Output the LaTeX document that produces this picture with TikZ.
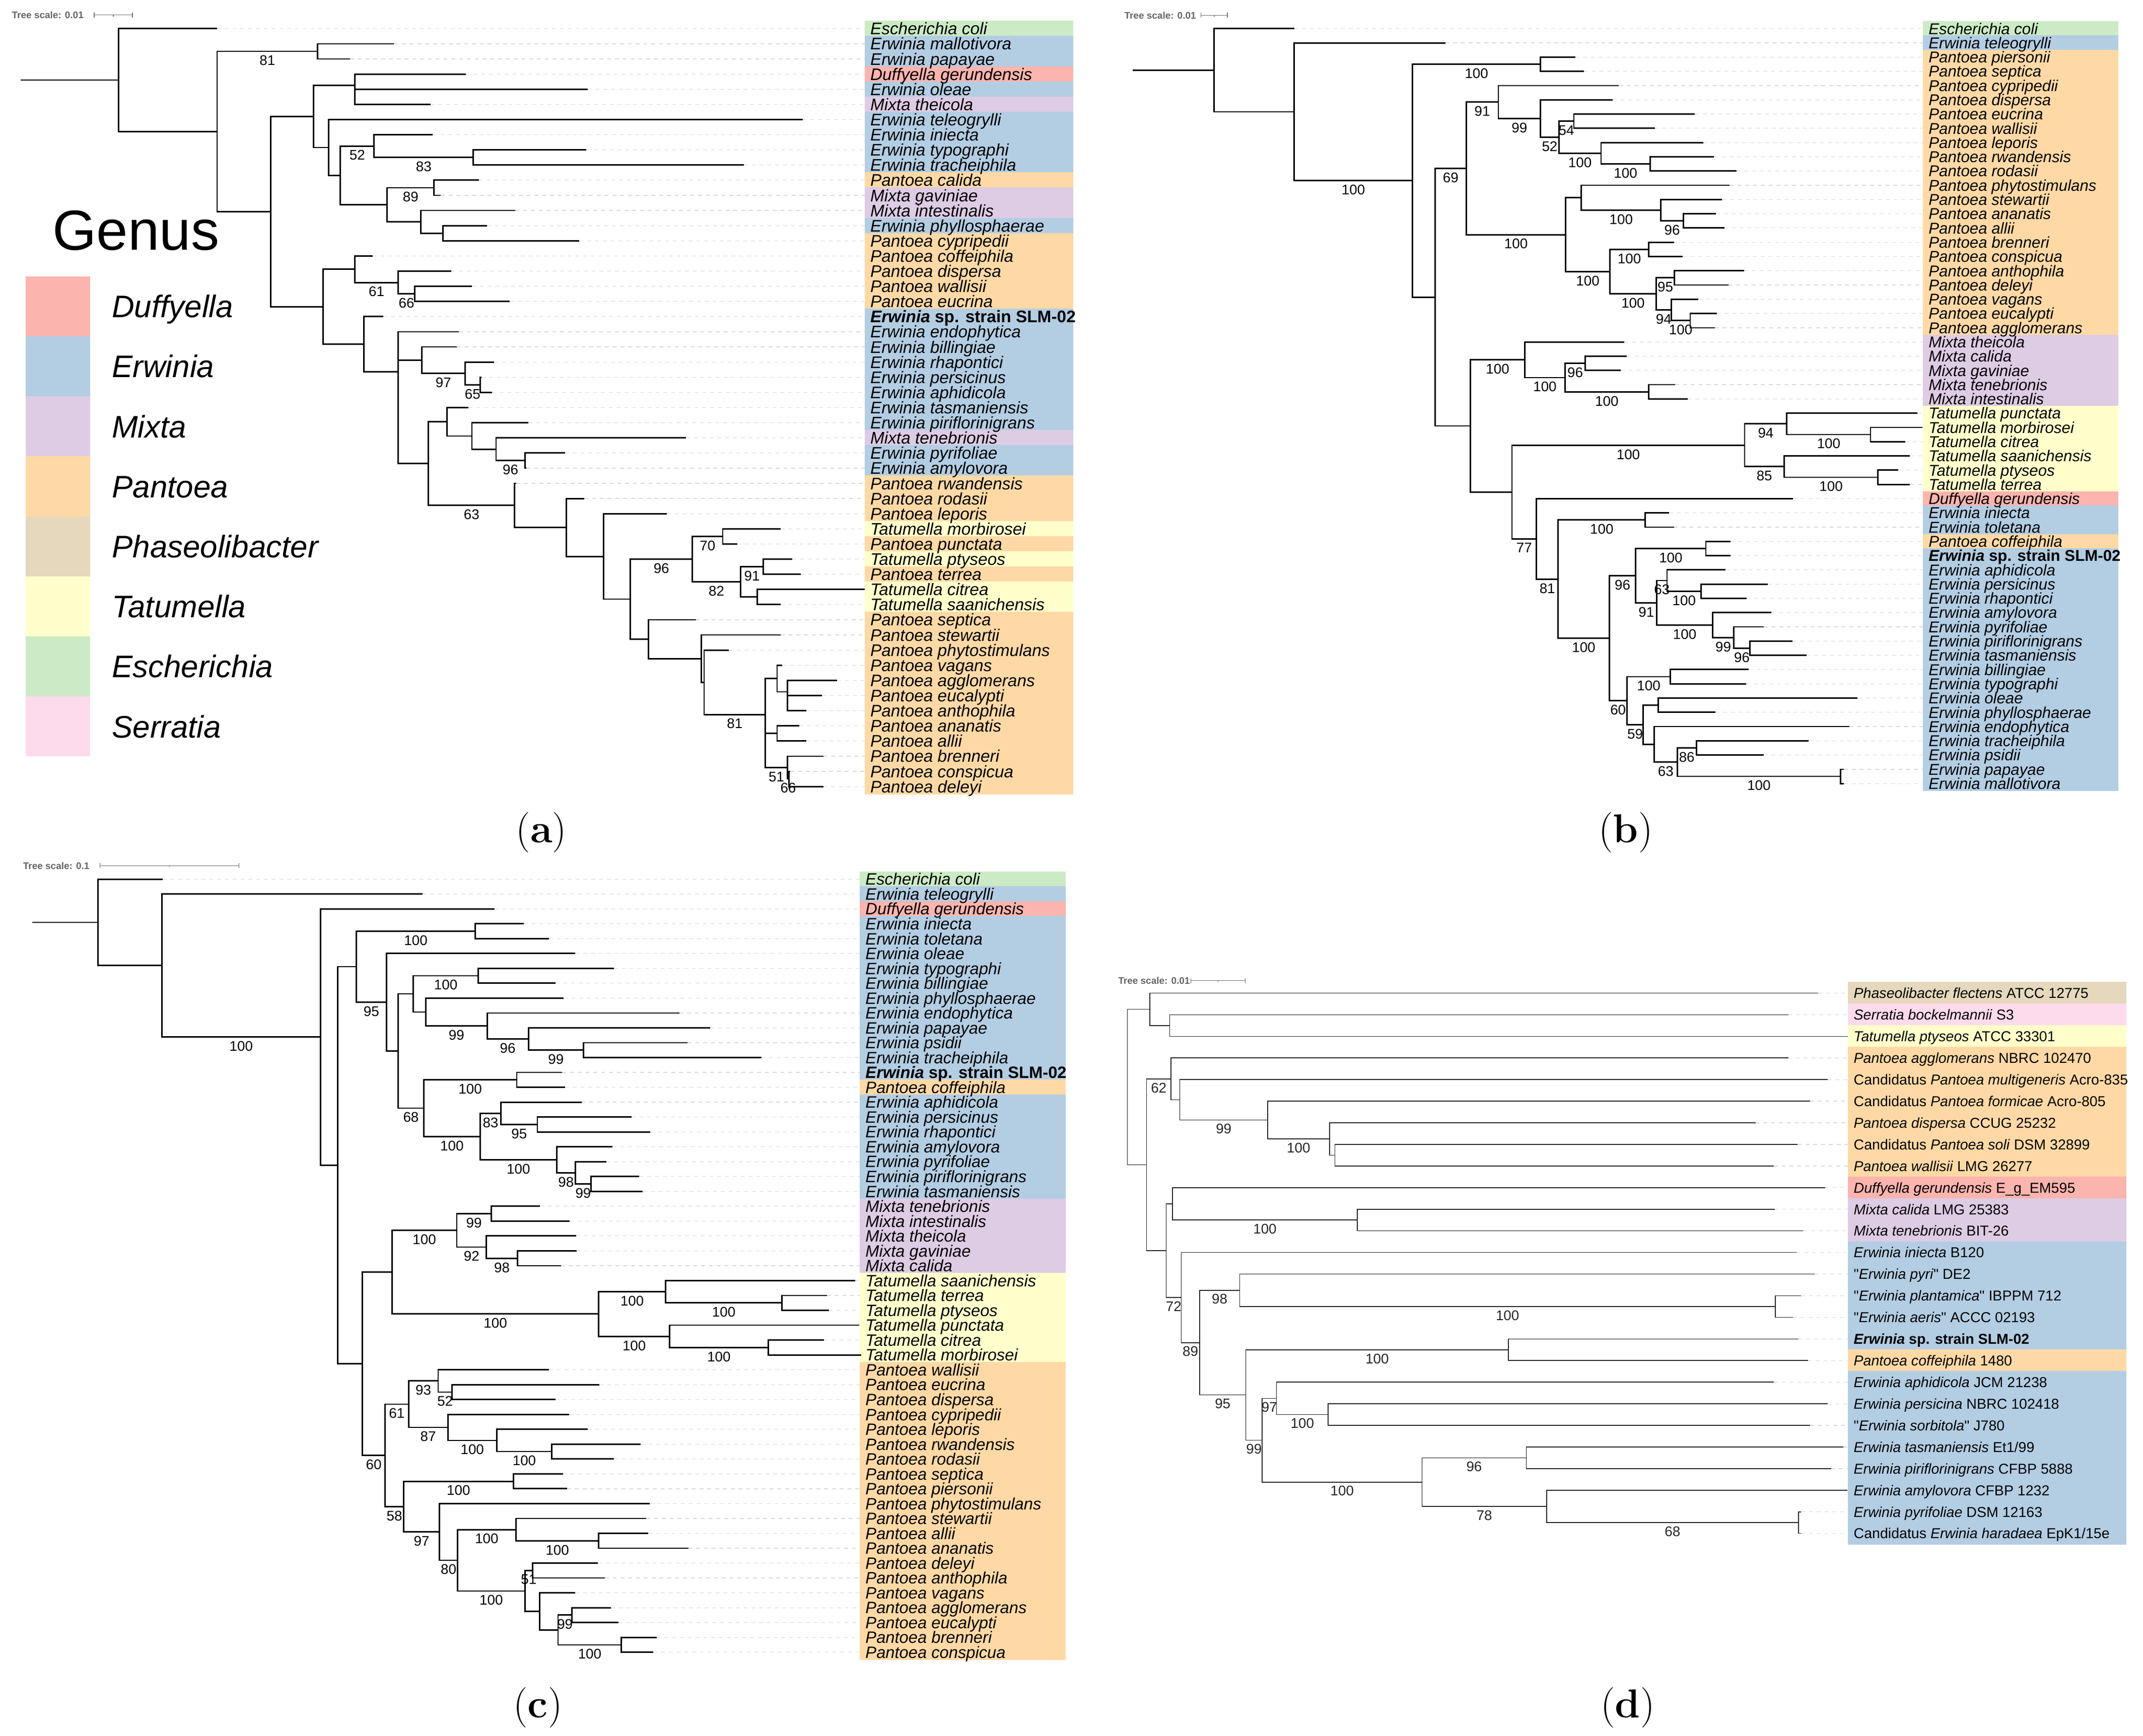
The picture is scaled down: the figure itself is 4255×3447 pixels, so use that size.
\documentclass[tikz,border=0pt]{standalone}
\usepackage{fontspec}
\newfontfamily\arial{Liberation Sans}
\usepackage{tikz}
\pgfdeclarelayer{bg}
\pgfsetlayers{bg,main}

\definecolor{duff}{HTML}{FBB4AE}
\definecolor{erw}{HTML}{B3CDE3}
\definecolor{mix}{HTML}{DECBE4}
\definecolor{pan}{HTML}{FED9A6}
\definecolor{pha}{HTML}{E5D8BD}
\definecolor{tat}{HTML}{FFFFCC}
\definecolor{esc}{HTML}{CCEBC5}
\definecolor{ser}{HTML}{FDDAEC}

\tikzset{
  branch/.style={line width=0.8pt},
  guide/.style={black!15, line width=0.35pt, dash pattern=on 2.2pt off 2.2pt},
  taxa/.style={anchor=west, inner xsep=3pt, inner ysep=0pt, text depth=0pt},
  boot/.style={below, inner sep=2pt, font=\arial\fontsize{7.9}{8}\selectfont},
  scaletext/.style={anchor=west, inner sep=0pt, text height=3.9pt, text depth=0pt, text=black!60, font=\arial\bfseries\fontsize{5.4}{6}\selectfont},
  scalebar/.style={black!55, line width=0.4pt},
  legendlab/.style={anchor=west, inner sep=0pt, text height=12.7pt, text depth=0pt, font=\arial\itshape\fontsize{17.6}{18}\selectfont},
  panellab/.style={inner sep=0pt, font=\fontsize{22.8}{24}\selectfont},
}

% 叶: 行, 名, 末端 x, 颜色, 标签
\newcommand{\taxon}[5]{%
  \begin{pgfonlayer}{bg}
    \fill[#4] (\xbox,{\ya+\dy*(#1-0.5)-0.5}) rectangle (\xend,{\ya+\dy*(#1+0.5)+0.5});
  \end{pgfonlayer}
  \coordinate (#2) at (#3,{\ya+\dy*#1});
  \node[taxa] (#2-t) at (\xbox,{\ya+\dy*#1}) {#5};
  \draw[guide] (#2) -- (#2-t.west);
}
% 分支: 名, x, 子1, 支持率1, 子2, 支持率2
\newcommand{\clade}[6]{%
  \path (#3) -- (#5) coordinate[midway] (#1-m);
  \coordinate (#1-x) at (#2,0);
  \coordinate (#1) at (#1-m -| #1-x);
  \draw[branch] (#3) -| node[boot, pos=.25] {#4} (#1) |- node[boot, pos=.75] {#6} (#5);
}
% 比例尺
\newcommand{\treescale}[5]{%
  \node[scaletext] (scale) at (#1,#2) {Tree scale: #5};
  \draw[scalebar] (#3,#2) -- (#4,#2)
    (#3,#2-5) -- (#3,#2+5) (#4,#2-5) -- (#4,#2+5)
    ({(#3+#4)/2},#2) -- ({(#3+#4)/2},#2+3);
}

\begin{document}
\begin{tikzpicture}[x=0.01cm, y=-0.01cm]
\useasboundingbox (0,0) rectangle (4255,3447);
\begin{pgfonlayer}{bg}
  \fill[white] (0,0) rectangle (4255,3447);
\end{pgfonlayer}

% 树 (a)
\begin{scope}[name prefix=a-, x=0.01367cm, taxa/.append style={font=\arial\itshape\fontsize{9.5}{11}\selectfont, text height=6.84pt}]
  \def\ya{56.8}\def\dy{30.106}\def\xbox{1255}\def\xend{1558}
  \treescale{16.8}{29.5}{136.8}{192.4}{0.01}
  % 图例
  \node[anchor=base west, inner sep=0pt, font=\arial\fontsize{31.9}{32}\selectfont] (genus) at (76,496) {Genus};
  \fill[duff] (37,548.7) rectangle (131,667.9);
  \fill[erw] (37,667.9) rectangle (131,787.1);
  \fill[mix] (37,787.1) rectangle (131,906.3);
  \fill[pan] (37,906.3) rectangle (131,1025.5);
  \fill[pha] (37,1025.5) rectangle (131,1144.7);
  \fill[tat] (37,1144.7) rectangle (131,1263.9);
  \fill[esc] (37,1263.9) rectangle (131,1383.1);
  \fill[ser] (37,1383.1) rectangle (131,1502.3);
  \node[legendlab] (leg-duff) at (162,608.3) {Duffyella};
  \node[legendlab] (leg-erw) at (162,727.5) {Erwinia};
  \node[legendlab] (leg-mix) at (162,846.7) {Mixta};
  \node[legendlab] (leg-pan) at (162,965.9) {Pantoea};
  \node[legendlab] (leg-pha) at (162,1085.1) {Phaseolibacter};
  \node[legendlab] (leg-tat) at (162,1204.3) {Tatumella};
  \node[legendlab] (leg-esc) at (162,1323.5) {Escherichia};
  \node[legendlab] (leg-ser) at (162,1442.7) {Serratia};
  % 叶
  \taxon{0}{coli}{315}{esc}{Escherichia coli}
  \taxon{1}{mallotivora}{572}{erw}{Erwinia mallotivora}
  \taxon{2}{papayae}{508}{erw}{Erwinia papayae}
  \taxon{3}{gerundensis}{676}{duff}{Duffyella gerundensis}
  \taxon{4}{oleae}{853}{erw}{Erwinia oleae}
  \taxon{5}{theicola}{625}{mix}{Mixta theicola}
  \taxon{6}{teleogrylli}{1165}{erw}{Erwinia teleogrylli}
  \taxon{7}{iniecta}{628}{erw}{Erwinia iniecta}
  \taxon{8}{typographi}{851}{erw}{Erwinia typographi}
  \taxon{9}{tracheiphila}{1080}{erw}{Erwinia tracheiphila}
  \taxon{10}{calida}{695}{pan}{Pantoea calida}
  \taxon{11}{gaviniae}{640}{mix}{Mixta gaviniae}
  \taxon{12}{intestinalis}{748}{mix}{Mixta intestinalis}
  \taxon{13}{phyllosphaerae}{707}{erw}{Erwinia phyllosphaerae}
  \taxon{14}{cypripedii}{841}{pan}{Pantoea cypripedii}
  \taxon{15}{coffeiphila}{541}{pan}{Pantoea coffeiphila}
  \taxon{16}{dispersa}{655}{pan}{Pantoea dispersa}
  \taxon{17}{wallisii}{685}{pan}{Pantoea wallisii}
  \taxon{18}{eucrina}{740}{pan}{Pantoea eucrina}
  \taxon{19}{slm}{556}{erw}{\bfseries Erwinia \upshape sp. strain SLM-02}
  \taxon{20}{endophytica}{666}{erw}{Erwinia endophytica}
  \taxon{21}{billingiae}{663}{erw}{Erwinia billingiae}
  \taxon{22}{rhapontici}{717}{erw}{Erwinia rhapontici}
  \taxon{23}{persicinus}{699}{erw}{Erwinia persicinus}
  \taxon{24}{aphidicola}{714}{erw}{Erwinia aphidicola}
  \taxon{25}{tasmaniensis}{680}{erw}{Erwinia tasmaniensis}
  \taxon{26}{piriflorinigrans}{767}{erw}{Erwinia piriflorinigrans}
  \taxon{27}{tenebrionis}{996}{mix}{Mixta tenebrionis}
  \taxon{28}{pyrifoliae}{820}{erw}{Erwinia pyrifoliae}
  \taxon{29}{amylovora}{764}{erw}{Erwinia amylovora}
  \taxon{30}{rwandensis}{749}{pan}{Pantoea rwandensis}
  \taxon{31}{rodasii}{848}{pan}{Pantoea rodasii}
  \taxon{32}{leporis}{968}{pan}{Pantoea leporis}
  \taxon{33}{morbirosei}{1133}{tat}{Tatumella morbirosei}
  \taxon{34}{punctata}{1070}{pan}{Pantoea punctata}
  \taxon{35}{ptyseos}{1150}{tat}{Tatumella ptyseos}
  \taxon{36}{terrea}{1162}{pan}{Pantoea terrea}
  \taxon{37}{citrea}{1255}{tat}{Tatumella citrea}
  \taxon{38}{saanichensis}{1133}{tat}{Tatumella saanichensis}
  \taxon{39}{septica}{1010}{pan}{Pantoea septica}
  \taxon{40}{stewartii}{1133}{pan}{Pantoea stewartii}
  \taxon{41}{phytostimulans}{1058}{pan}{Pantoea phytostimulans}
  \taxon{42}{vagans}{1135}{pan}{Pantoea vagans}
  \taxon{43}{agglomerans}{1215}{pan}{Pantoea agglomerans}
  \taxon{44}{eucalypti}{1193}{pan}{Pantoea eucalypti}
  \taxon{45}{anthophila}{1170}{pan}{Pantoea anthophila}
  \taxon{46}{ananatis}{1160}{pan}{Pantoea ananatis}
  \taxon{47}{allii}{1170}{pan}{Pantoea allii}
  \taxon{48}{brenneri}{1195}{pan}{Pantoea brenneri}
  \taxon{49}{conspicua}{1147}{pan}{Pantoea conspicua}
  \taxon{50}{deleyi}{1195}{pan}{Pantoea deleyi}
  % 分支
  \clade{B}{461}{mallotivora}{}{papayae}{}
  \clade{F2}{515}{oleae}{}{theicola}{}
  \clade{F}{515}{gerundensis}{}{F2}{}
  \clade{J}{687}{typographi}{}{tracheiphila}{}
  \clade{I}{543}{iniecta}{}{J}{83}
  \clade{L}{630}{calida}{}{gaviniae}{}
  \clade{N}{643}{phyllosphaerae}{}{cypripedii}{}
  \clade{M}{611}{intestinalis}{}{N}{}
  \clade{K}{562}{L}{89}{M}{}
  \clade{H}{494}{I}{52}{K}{}
  \clade{G}{477}{teleogrylli}{}{H}{}
  \clade{D}{455}{F}{}{G}{}
  \clade{S}{602}{wallisii}{}{eucrina}{}
  \clade{Q}{578}{dispersa}{}{S}{66}
  \clade{O}{515}{coffeiphila}{}{Q}{61}
  \clade{X}{697}{persicinus}{}{aphidicola}{}
  \clade{W}{675}{rhapontici}{}{X}{65}
  \clade{U}{612}{billingiae}{}{W}{97}
  \clade{AC}{762}{pyrifoliae}{}{amylovora}{}
  \clade{AB}{720}{tenebrionis}{}{AC}{96}
  \clade{AA}{685}{piriflorinigrans}{}{AB}{}
  \clade{Y}{649}{tasmaniensis}{}{AA}{}
  \clade{AI}{1049}{morbirosei}{}{punctata}{}
  \clade{AK}{1108}{ptyseos}{}{terrea}{}
  \clade{AL}{1099}{citrea}{}{saanichensis}{}
  \clade{AJ}{1075}{AK}{91}{AL}{}
  \clade{AG}{1005}{AI}{70}{AJ}{82}
  \clade{AS2}{1143}{eucalypti}{}{anthophila}{}
  \clade{AS}{1143}{agglomerans}{}{AS2}{}
  \clade{AP}{1128}{vagans}{}{AS}{}
  \clade{AQ}{1128}{ananatis}{}{allii}{}
  \clade{AT}{1145}{conspicua}{}{deleyi}{}
  \clade{AR}{1143}{brenneri}{}{AT}{66}
  \clade{AO2}{1111}{AQ}{}{AR}{51}
  \clade{AO}{1111}{AP}{}{AO2}{}
  \clade{AN}{1022}{phytostimulans}{}{AO}{81}
  \clade{AM}{1018}{stewartii}{}{AN}{}
  \clade{AH}{941}{septica}{}{AM}{}
  \clade{AF}{915}{AG}{96}{AH}{}
  \clade{AE}{876}{leporis}{}{AF}{}
  \clade{AD}{822}{rodasii}{}{AE}{}
  \clade{Z}{747}{rwandensis}{}{AD}{}
  \clade{V}{622}{Y}{}{Z}{63}
  \clade{T2}{578}{U}{}{V}{}
  \clade{T}{578}{endophytica}{}{T2}{}
  \clade{P}{528}{slm}{}{T}{}
  \clade{E}{469}{O}{}{P}{}
  \clade{C}{393}{D}{}{E}{}
  \clade{A}{315}{B}{81}{C}{}
  \clade{R}{172}{coli}{}{A}{}
  \coordinate (stem) at (30,0);
  \draw[branch] (R) -- (R -| stem);
\end{scope}

% 树 (b)
\begin{scope}[name prefix=b-, xshift=21.4cm, x=0.013506cm, taxa/.append style={font=\arial\itshape\fontsize{8.88}{10}\selectfont, text height=6.4pt}]
  \def\ya{56.8}\def\dy{28.29}\def\xbox{1241}\def\xend{1528}
  \treescale{67}{30.2}{180}{219}{0.01}
  \taxon{0}{coli}{317}{esc}{Escherichia coli}
  \taxon{1}{teleogrylli}{539}{erw}{Erwinia teleogrylli}
  \taxon{2}{piersonii}{730}{pan}{Pantoea piersonii}
  \taxon{3}{septica}{743}{pan}{Pantoea septica}
  \taxon{4}{cypripedii}{794}{pan}{Pantoea cypripedii}
  \taxon{5}{dispersa}{785}{pan}{Pantoea dispersa}
  \taxon{6}{eucrina}{906}{pan}{Pantoea eucrina}
  \taxon{7}{wallisii}{847}{pan}{Pantoea wallisii}
  \taxon{8}{leporis}{918}{pan}{Pantoea leporis}
  \taxon{9}{rwandensis}{934}{pan}{Pantoea rwandensis}
  \taxon{10}{rodasii}{967}{pan}{Pantoea rodasii}
  \taxon{11}{phytostimulans}{957}{pan}{Pantoea phytostimulans}
  \taxon{12}{stewartii}{946}{pan}{Pantoea stewartii}
  \taxon{13}{ananatis}{937}{pan}{Pantoea ananatis}
  \taxon{14}{allii}{949}{pan}{Pantoea allii}
  \taxon{15}{brenneri}{875}{pan}{Pantoea brenneri}
  \taxon{16}{conspicua}{888}{pan}{Pantoea conspicua}
  \taxon{17}{anthophila}{978}{pan}{Pantoea anthophila}
  \taxon{18}{deleyi}{955}{pan}{Pantoea deleyi}
  \taxon{19}{vagans}{911}{pan}{Pantoea vagans}
  \taxon{20}{eucalypti}{938}{pan}{Pantoea eucalypti}
  \taxon{21}{agglomerans}{935}{pan}{Pantoea agglomerans}
  \taxon{22}{theicola}{802}{mix}{Mixta theicola}
  \taxon{23}{calida}{806}{mix}{Mixta calida}
  \taxon{24}{gaviniae}{797}{mix}{Mixta gaviniae}
  \taxon{25}{tenebrionis}{877}{mix}{Mixta tenebrionis}
  \taxon{26}{intestinalis}{895}{mix}{Mixta intestinalis}
  \taxon{27}{punctata}{1233}{tat}{Tatumella punctata}
  \taxon{28}{morbirosei}{1240}{tat}{Tatumella morbirosei}
  \taxon{29}{citrea}{1215}{tat}{Tatumella citrea}
  \taxon{30}{saanichensis}{1222}{tat}{Tatumella saanichensis}
  \taxon{31}{ptyseos}{1205}{tat}{Tatumella ptyseos}
  \taxon{32}{terrea}{1222}{tat}{Tatumella terrea}
  \taxon{33}{gerundensis}{1050}{duff}{Duffyella gerundensis}
  \taxon{34}{iniecta}{868}{erw}{Erwinia iniecta}
  \taxon{35}{toletana}{875}{erw}{Erwinia toletana}
  \taxon{36}{coffeiphila}{958}{pan}{Pantoea coffeiphila}
  \taxon{37}{slm}{958}{erw}{\bfseries Erwinia \upshape sp. strain SLM-02}
  \taxon{38}{aphidicola}{951}{erw}{Erwinia aphidicola}
  \taxon{39}{persicinus}{1013}{erw}{Erwinia persicinus}
  \taxon{40}{rhapontici}{982}{erw}{Erwinia rhapontici}
  \taxon{41}{amylovora}{1018}{erw}{Erwinia amylovora}
  \taxon{42}{pyrifoliae}{1007}{erw}{Erwinia pyrifoliae}
  \taxon{43}{piriflorinigrans}{1049}{erw}{Erwinia piriflorinigrans}
  \taxon{44}{tasmaniensis}{1070}{erw}{Erwinia tasmaniensis}
  \taxon{45}{billingiae}{985}{erw}{Erwinia billingiae}
  \taxon{46}{typographi}{981}{erw}{Erwinia typographi}
  \taxon{47}{oleae}{1145}{erw}{Erwinia oleae}
  \taxon{48}{phyllosphaerae}{936}{erw}{Erwinia phyllosphaerae}
  \taxon{49}{endophytica}{1133}{erw}{Erwinia endophytica}
  \taxon{50}{tracheiphila}{1073}{erw}{Erwinia tracheiphila}
  \taxon{51}{psidii}{1007}{erw}{Erwinia psidii}
  \taxon{52}{papayae}{1125}{erw}{Erwinia papayae}
  \taxon{53}{mallotivora}{1125}{erw}{Erwinia mallotivora}
  \clade{C}{679}{piersonii}{}{septica}{}
  \clade{K}{728}{eucrina}{}{wallisii}{}
  \clade{M}{840}{rwandensis}{}{rodasii}{}
  \clade{L}{768}{leporis}{}{M}{100}
  \clade{J}{706}{K}{54}{L}{100}
  \clade{I}{679}{dispersa}{}{J}{52}
  \clade{G}{617}{cypripedii}{}{I}{99}
  \clade{Q}{889}{ananatis}{}{allii}{}
  \clade{P}{856}{stewartii}{}{Q}{96}
  \clade{N}{739}{phytostimulans}{}{P}{100}
  \clade{S}{838}{brenneri}{}{conspicua}{}
  \clade{U}{876}{anthophila}{}{deleyi}{}
  \clade{W}{899}{eucalypti}{}{agglomerans}{}
  \clade{V}{871}{vagans}{}{W}{100}
  \clade{T}{849}{U}{95}{V}{94}
  \clade{O}{781}{S}{100}{T}{100}
  \clade{H}{716}{N}{}{O}{100}
  \clade{E}{570}{G}{91}{H}{100}
  \clade{AA}{745}{calida}{}{gaviniae}{}
  \clade{AB}{838}{tenebrionis}{}{intestinalis}{}
  \clade{Z}{715}{AA}{96}{AB}{100}
  \clade{X}{656}{theicola}{}{Z}{100}
  \clade{AG}{1164}{morbirosei}{}{citrea}{}
  \clade{AE}{1041}{punctata}{}{AG}{100}
  \clade{AH}{1175}{ptyseos}{}{terrea}{}
  \clade{AF}{1037}{saanichensis}{}{AH}{100}
  \clade{AC}{979}{AE}{94}{AF}{85}
  \clade{AJ}{833}{iniecta}{}{toletana}{}
  \clade{AN}{922}{coffeiphila}{}{slm}{}
  \clade{AR}{915}{persicinus}{}{rhapontici}{}
  \clade{AP}{865}{aphidicola}{}{AR}{100}
  \clade{AT}{987}{piriflorinigrans}{}{tasmaniensis}{}
  \clade{AS}{963}{pyrifoliae}{}{AT}{96}
  \clade{AQ}{932}{amylovora}{}{AS}{99}
  \clade{AO}{850}{AP}{63}{AQ}{100}
  \clade{AL}{819}{AN}{100}{AO}{91}
  \clade{AU}{870}{billingiae}{}{typographi}{}
  \clade{AW}{852}{oleae}{}{phyllosphaerae}{}
  \clade{AZ}{908}{tracheiphila}{}{psidii}{}
  \clade{BA}{1120}{papayae}{}{mallotivora}{}
  \clade{AY}{880}{AZ}{86}{BA}{100}
  \clade{AX}{846}{endophytica}{}{AY}{63}
  \clade{AV}{830}{AW}{}{AX}{}
  \clade{AM}{806}{AU}{100}{AV}{59}
  \clade{AK}{780}{AL}{96}{AM}{60}
  \clade{AI}{705}{AJ}{100}{AK}{100}
  \clade{AD}{673}{gerundensis}{}{AI}{81}
  \clade{Y}{637}{AC}{100}{AD}{77}
  \clade{F}{576}{X}{100}{Y}{}
  \clade{D}{524}{E}{69}{F}{}
  \clade{B}{491}{C}{100}{D}{}
  \clade{A}{317}{teleogrylli}{}{B}{100}
  \clade{R}{199}{coli}{}{A}{}
  \coordinate (stem) at (80,0);
  \draw[branch] (R) -- (R -| stem);
\end{scope}

% 树 (c)
\begin{scope}[name prefix=c-, x=0.01367cm, taxa/.append style={font=\arial\itshape\fontsize{9.3}{10}\selectfont, text height=6.7pt}]
  \def\ya{1746.1}\def\dy{29.53}\def\xbox{1248}\def\xend{1547}
  \treescale{33}{1719.4}{145}{347}{0.1}
  \taxon{0}{coli}{236}{esc}{Escherichia coli}
  \taxon{1}{teleogrylli}{613}{erw}{Erwinia teleogrylli}
  \taxon{2}{gerundensis}{718}{duff}{Duffyella gerundensis}
  \taxon{3}{iniecta}{760}{erw}{Erwinia iniecta}
  \taxon{4}{toletana}{797}{erw}{Erwinia toletana}
  \taxon{5}{oleae}{835}{erw}{Erwinia oleae}
  \taxon{6}{typographi}{891}{erw}{Erwinia typographi}
  \taxon{7}{billingiae}{806}{erw}{Erwinia billingiae}
  \taxon{8}{phyllosphaerae}{818}{erw}{Erwinia phyllosphaerae}
  \taxon{9}{endophytica}{986}{erw}{Erwinia endophytica}
  \taxon{10}{papayae}{1031}{erw}{Erwinia papayae}
  \taxon{11}{psidii}{998}{erw}{Erwinia psidii}
  \taxon{12}{tracheiphila}{1105}{erw}{Erwinia tracheiphila}
  \taxon{13}{slm}{816}{erw}{\bfseries Erwinia \upshape sp. strain SLM-02}
  \taxon{14}{coffeiphila}{820}{pan}{Pantoea coffeiphila}
  \taxon{15}{aphidicola}{844}{erw}{Erwinia aphidicola}
  \taxon{16}{persicinus}{917}{erw}{Erwinia persicinus}
  \taxon{17}{rhapontici}{944}{erw}{Erwinia rhapontici}
  \taxon{18}{amylovora}{889}{erw}{Erwinia amylovora}
  \taxon{19}{pyrifoliae}{880}{erw}{Erwinia pyrifoliae}
  \taxon{20}{piriflorinigrans}{928}{erw}{Erwinia piriflorinigrans}
  \taxon{21}{tasmaniensis}{933}{erw}{Erwinia tasmaniensis}
  \taxon{22}{tenebrionis}{784}{mix}{Mixta tenebrionis}
  \taxon{23}{intestinalis}{827}{mix}{Mixta intestinalis}
  \taxon{24}{theicola}{836}{mix}{Mixta theicola}
  \taxon{25}{gaviniae}{837}{mix}{Mixta gaviniae}
  \taxon{26}{calida}{814}{mix}{Mixta calida}
  \taxon{27}{saanichensis}{1241}{tat}{Tatumella saanichensis}
  \taxon{28}{terrea}{1200}{tat}{Tatumella terrea}
  \taxon{29}{ptyseos}{1203}{tat}{Tatumella ptyseos}
  \taxon{30}{punctata}{1247}{tat}{Tatumella punctata}
  \taxon{31}{citrea}{1196}{tat}{Tatumella citrea}
  \taxon{32}{morbirosei}{1250}{tat}{Tatumella morbirosei}
  \taxon{33}{wallisii}{797}{pan}{Pantoea wallisii}
  \taxon{34}{eucrina}{870}{pan}{Pantoea eucrina}
  \taxon{35}{dispersa}{806}{pan}{Pantoea dispersa}
  \taxon{36}{cypripedii}{826}{pan}{Pantoea cypripedii}
  \taxon{37}{leporis}{853}{pan}{Pantoea leporis}
  \taxon{38}{rwandensis}{930}{pan}{Pantoea rwandensis}
  \taxon{39}{rodasii}{891}{pan}{Pantoea rodasii}
  \taxon{40}{septica}{817}{pan}{Pantoea septica}
  \taxon{41}{piersonii}{823}{pan}{Pantoea piersonii}
  \taxon{42}{phytostimulans}{943}{pan}{Pantoea phytostimulans}
  \taxon{43}{stewartii}{938}{pan}{Pantoea stewartii}
  \taxon{44}{allii}{941}{pan}{Pantoea allii}
  \taxon{45}{ananatis}{999}{pan}{Pantoea ananatis}
  \taxon{46}{deleyi}{868}{pan}{Pantoea deleyi}
  \taxon{47}{anthophila}{878}{pan}{Pantoea anthophila}
  \taxon{48}{vagans}{835}{pan}{Pantoea vagans}
  \taxon{49}{agglomerans}{887}{pan}{Pantoea agglomerans}
  \taxon{50}{eucalypti}{898}{pan}{Pantoea eucalypti}
  \taxon{51}{brenneri}{953}{pan}{Pantoea brenneri}
  \taxon{52}{conspicua}{948}{pan}{Pantoea conspicua}
  \clade{F}{690}{iniecta}{}{toletana}{}
  \clade{K}{694}{typographi}{}{billingiae}{}
  \clade{O}{847}{psidii}{}{tracheiphila}{}
  \clade{N}{767}{papayae}{}{O}{99}
  \clade{M}{707}{endophytica}{}{N}{96}
  \clade{L}{618}{phyllosphaerae}{}{M}{99}
  \clade{I}{600}{K}{100}{L}{}
  \clade{P}{750}{slm}{}{coffeiphila}{}
  \clade{T}{780}{persicinus}{}{rhapontici}{}
  \clade{R2}{727}{aphidicola}{}{T}{95}
  \clade{V}{858}{piriflorinigrans}{}{tasmaniensis}{}
  \clade{U}{835}{pyrifoliae}{}{V}{99}
  \clade{S}{808}{amylovora}{}{U}{98}
  \clade{Q}{697}{R2}{83}{S}{100}
  \clade{J}{615}{P}{100}{Q}{100}
  \clade{H}{578}{I}{}{J}{68}
  \clade{G}{561}{oleae}{}{H}{}
  \clade{D}{517}{F}{100}{G}{95}
  \clade{AA}{713}{tenebrionis}{}{intestinalis}{}
  \clade{AC}{751}{gaviniae}{}{calida}{}
  \clade{AB}{706}{theicola}{}{AC}{98}
  \clade{Y}{663}{AA}{99}{AB}{92}
  \clade{AF}{1135}{terrea}{}{ptyseos}{}
  \clade{AD}{966}{saanichensis}{}{AF}{100}
  \clade{AG}{1115}{citrea}{}{morbirosei}{}
  \clade{AE}{972}{punctata}{}{AG}{100}
  \clade{Z}{869}{AD}{100}{AE}{100}
  \clade{W}{569}{Y}{100}{Z}{100}
  \clade{AN}{656}{eucrina}{}{dispersa}{}
  \clade{AJ}{636}{wallisii}{}{AN}{52}
  \clade{AM}{801}{rwandensis}{}{rodasii}{}
  \clade{AL}{721}{leporis}{}{AM}{100}
  \clade{AK}{650}{cypripedii}{}{AL}{100}
  \clade{AH}{593}{AJ}{93}{AK}{87}
  \clade{AO}{745}{septica}{}{piersonii}{}
  \clade{AT}{869}{allii}{}{ananatis}{}
  \clade{AR}{749}{stewartii}{}{AT}{100}
  \clade{AU}{773}{deleyi}{}{anthophila}{}
  \clade{AX}{830}{agglomerans}{}{eucalypti}{}
  \clade{AY}{902}{brenneri}{}{conspicua}{}
  \clade{AW}{810}{AX}{99}{AY}{100}
  \clade{AV}{783}{vagans}{}{AW}{}
  \clade{AS}{762}{AU}{51}{AV}{}
  \clade{AQ}{664}{AR}{100}{AS}{100}
  \clade{AP}{638}{phytostimulans}{}{AQ}{80}
  \clade{AI}{586}{AO}{100}{AP}{97}
  \clade{X}{559}{AH}{61}{AI}{58}
  \clade{E}{526}{W}{}{X}{60}
  \clade{C}{490}{D}{}{E}{}
  \clade{B}{465}{gerundensis}{}{C}{}
  \clade{A}{235}{teleogrylli}{}{B}{100}
  \clade{R}{142}{coli}{}{A}{}
  \coordinate (stem) at (47,0);
  \draw[branch] (R) -- (R -| stem);
\end{scope}

% 树 (d)
\begin{scope}[name prefix=d-, xshift=21.4cm, x=0.013506cm, branch/.append style={line width=0.45pt, black!85}, taxa/.append style={font=\arial\fontsize{8.12}{9}\selectfont, text height=5.85pt}]
  \def\ya{1972.4}\def\dy{42.93}\def\xbox{1131}\def\xend{1540}
  \treescale{58}{1947.5}{165}{245}{0.01}
  \taxon{0}{phaseolibacter}{1087}{pha}{\textit{Phaseolibacter flectens} ATCC 12775}
  \taxon{1}{serratia}{1043}{ser}{\textit{Serratia bockelmannii} S3}
  \taxon{2}{tatumella}{1131}{tat}{\textit{Tatumella ptyseos} ATCC 33301}
  \taxon{3}{agglomerans}{1043}{pan}{\textit{Pantoea agglomerans} NBRC 102470}
  \taxon{4}{multigeneris}{1101}{pan}{Candidatus \textit{Pantoea multigeneris} Acro-835}
  \taxon{5}{formicae}{1075}{pan}{Candidatus \textit{Pantoea formicae} Acro-805}
  \taxon{6}{dispersa}{995}{pan}{\textit{Pantoea dispersa} CCUG 25232}
  \taxon{7}{soli}{1057}{pan}{Candidatus \textit{Pantoea soli} DSM 32899}
  \taxon{8}{wallisii}{1022}{pan}{\textit{Pantoea wallisii} LMG 26277}
  \taxon{9}{gerundensis}{1097}{duff}{\textit{Duffyella gerundensis} E\_g\_EM595}
  \taxon{10}{calida}{1023}{mix}{\textit{Mixta calida} LMG 25383}
  \taxon{11}{tenebrionis}{1065}{mix}{\textit{Mixta tenebrionis} BIT-26}
  \taxon{12}{iniecta}{1055}{erw}{\textit{Erwinia iniecta} B120}
  \taxon{13}{pyri}{1082}{erw}{"\textit{Erwinia pyri}" DE2}
  \taxon{14}{plantamica}{1062}{erw}{"\textit{Erwinia plantamica}" IBPPM 712}
  \taxon{15}{aeris}{1050}{erw}{"\textit{Erwinia aeris}" ACCC 02193}
  \taxon{16}{slm}{1058}{erw}{\textbf{\textit{Erwinia} sp. strain SLM-02}}
  \taxon{17}{coffeiphila}{1072}{pan}{\textit{Pantoea coffeiphila} 1480}
  \taxon{18}{aphidicola}{1022}{erw}{\textit{Erwinia aphidicola} JCM 21238}
  \taxon{19}{persicina}{1101}{erw}{\textit{Erwinia persicina} NBRC 102418}
  \taxon{20}{sorbitola}{1075}{erw}{"\textit{Erwinia sorbitola}" J780}
  \taxon{21}{tasmaniensis}{1124}{erw}{\textit{Erwinia tasmaniensis} Et1/99}
  \taxon{22}{piriflorinigrans}{1106}{erw}{\textit{Erwinia piriflorinigrans} CFBP 5888}
  \taxon{23}{amylovora}{1130}{erw}{\textit{Erwinia amylovora} CFBP 1232}
  \taxon{24}{pyrifoliae}{1062}{erw}{\textit{Erwinia pyrifoliae} DSM 12163}
  \taxon{25}{haradaea}{1062}{erw}{Candidatus \textit{Erwinia haradaea} EpK1/15e}
  \clade{C}{134}{serratia}{}{tatumella}{}
  \clade{A}{105}{phaseolibacter}{}{C}{}
  \clade{I}{377}{soli}{}{wallisii}{}
  \clade{H}{369}{dispersa}{}{I}{}
  \clade{G}{278}{formicae}{}{H}{100}
  \clade{F}{149}{multigeneris}{}{G}{99}
  \clade{D}{136}{agglomerans}{}{F}{}
  \clade{L}{410}{calida}{}{tenebrionis}{}
  \clade{J}{138}{gerundensis}{}{L}{100}
  \clade{P}{1024}{plantamica}{}{aeris}{}
  \clade{N}{237}{pyri}{}{P}{100}
  \clade{Q}{632}{slm}{}{coffeiphila}{}
  \clade{V}{367}{persicina}{}{sorbitola}{}
  \clade{T}{291}{aphidicola}{}{V}{100}
  \clade{W}{658}{tasmaniensis}{}{piriflorinigrans}{}
  \clade{Y}{1058}{pyrifoliae}{}{haradaea}{}
  \clade{X}{688}{amylovora}{}{Y}{68}
  \clade{U}{505}{W}{96}{X}{78}
  \clade{S}{270}{T}{97}{U}{100}
  \clade{O}{246}{Q}{100}{S}{99}
  \clade{M}{178}{N}{98}{O}{95}
  \clade{K}{151}{iniecta}{}{M}{89}
  \clade{E}{129}{J}{}{K}{72}
  \clade{B}{100}{D}{62}{E}{}
  \clade{R}{72}{A}{}{B}{}
\end{scope}

% 子图标号
\node[panellab] (lab-a) at (1075,1653) {(\textbf{a})};
\node[panellab] (lab-b) at (3228,1653) {(\textbf{b})};
\node[panellab] (lab-c) at (1068,3391) {(\textbf{c})};
\node[panellab] (lab-d) at (3232,3391) {(\textbf{d})};
\end{tikzpicture}
\end{document}
